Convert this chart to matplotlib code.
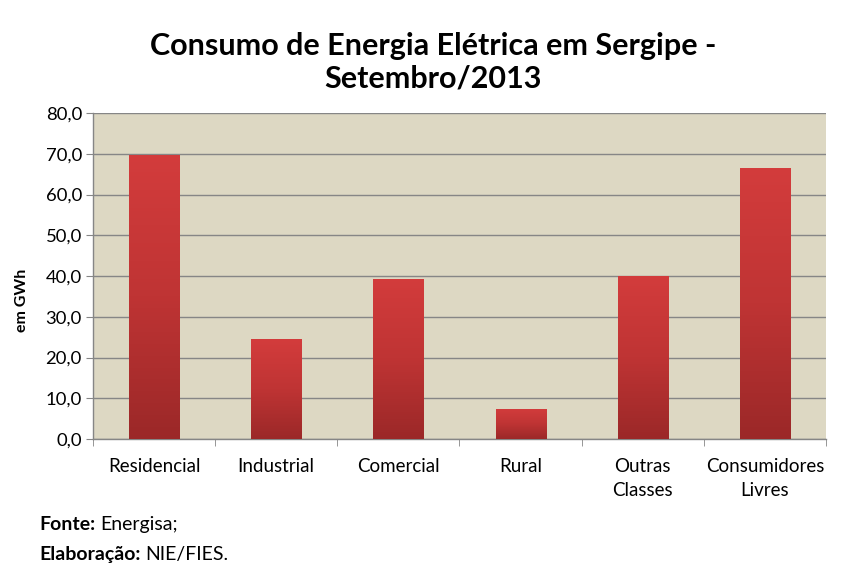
import matplotlib
matplotlib.use("Agg")
import matplotlib.pyplot as plt
import numpy as np
from matplotlib.colors import LinearSegmentedColormap

categories = ["Residencial", "Industrial", "Comercial", "Rural", "Outras\nClasses", "Consumidores\nLivres"]
values = [69.7, 24.5, 39.3, 7.4, 40.0, 66.5]
yticks = [0, 10, 20, 30, 40, 50, 60, 70, 80]
ytick_labels = ["0,0", "10,0", "20,0", "30,0", "40,0", "50,0", "60,0", "70,0", "80,0"]

plt.rcParams['font.family'] = ['Lato', 'DejaVu Sans']

fig = plt.figure(figsize=(8.51, 5.81), dpi=100)
ax = fig.add_axes([93/851, 1-439/581, (826-93)/851, (439-113)/581])
ax.set_facecolor("#ddd8c3")

x = np.arange(len(categories))
bars = ax.bar(x, values, width=0.41, color="#c03434", zorder=3, edgecolor="none")

cmap = LinearSegmentedColormap.from_list("g", ["#9b2828", "#bf3434", "#d33c3c"])
grad = np.linspace(0, 1, 256).reshape(-1, 1)
for b in bars:
    x0, y0 = b.get_x(), b.get_y()
    w, h = b.get_width(), b.get_height()
    im = ax.imshow(grad, extent=[x0, x0 + w, y0, y0 + h], origin="lower",
                   cmap=cmap, aspect="auto", zorder=4)
    im.set_clip_path(b)

ax.set_xlim(-0.5, len(categories) - 0.5)
ax.set_ylim(0, 80)
ax.set_yticks(yticks)
ax.set_yticklabels(ytick_labels, fontsize=13.3)
ax.set_xticks(x)
ax.set_xticklabels(categories, fontsize=13.5, linespacing=1.5)
ax.set_xticks(np.arange(-0.5, len(categories)), minor=True)
ax.tick_params(axis="x", which="major", length=0, pad=14)
ax.tick_params(axis="x", which="minor", length=5, color="#868686", direction="out")
ax.tick_params(axis="y", length=5, color="#868686", direction="out", pad=3)
for lab in ax.get_xticklabels():
    lab.set_verticalalignment("top")

ax.yaxis.grid(True, color="#868686", linewidth=1, zorder=1)
ax.set_axisbelow(True)
for s in ["top", "right"]:
    ax.spines[s].set_visible(False)
for s in ["left", "bottom"]:
    ax.spines[s].set_color("#868686")
    ax.spines[s].set_linewidth(1)

fig.text(22/851, 1-300/581, "em GWh", rotation=90, ha="center", va="center",
         fontsize=11.5, fontweight="bold")

fig.text(433/851, 1-62/581, "Consumo de Energia Elétrica em Sergipe -\nSetembro/2013",
         ha="center", va="center", fontsize=22, fontweight="bold", linespacing=1.2)

fig.canvas.draw()
renderer = fig.canvas.get_renderer()

def label_line(xpx, ypx, bold_txt, reg_txt, fs=14):
    t = fig.text(xpx/851, 1-ypx/581, bold_txt, fontsize=fs, fontweight="bold", va="baseline")
    bb = t.get_window_extent(renderer=renderer)
    fig.text((bb.x1 + 5)/851, 1-ypx/581, reg_txt, fontsize=fs, va="baseline")

label_line(39, 530, "Fonte:", "Energisa;")
label_line(39, 560, "Elaboração:", "NIE/FIES.")

fig.savefig("out.png", dpi=100, facecolor="white")
